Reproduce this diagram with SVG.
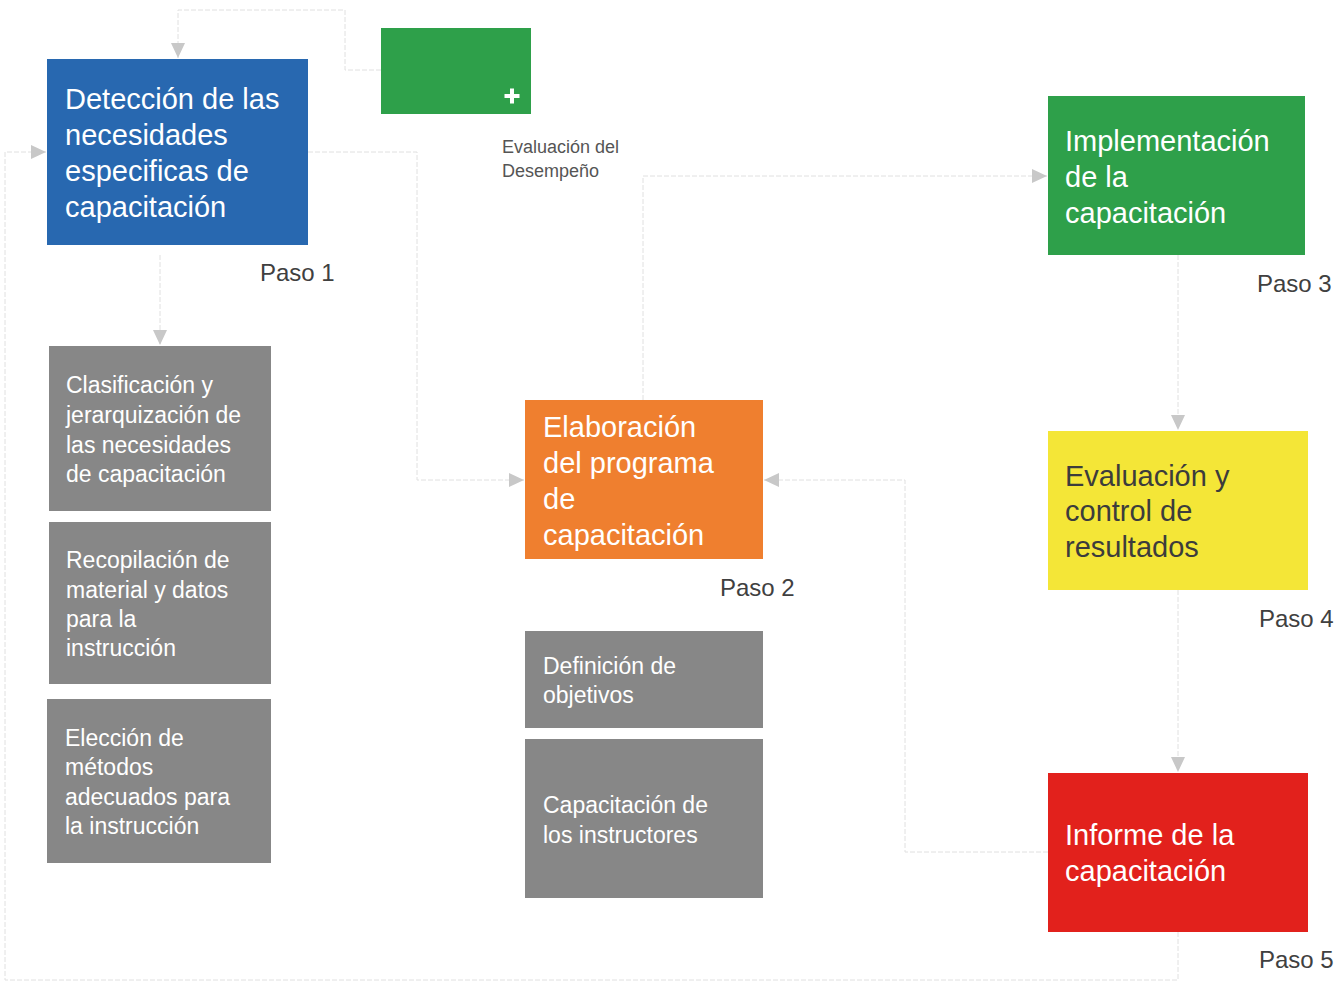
<svg xmlns="http://www.w3.org/2000/svg" width="1342" height="982" viewBox="0 0 1342 982">
<style>
.conn{fill:none;stroke:#e0e0e0;stroke-width:1;stroke-dasharray:5 2}
.big{font-family:"Liberation Sans",Arial,sans-serif;font-size:29px;fill:#fff}
.sm{font-family:"Liberation Sans",Arial,sans-serif;font-size:23px;fill:#fff}
.dk{fill:#3c3c3c}
.paso{font-family:"Liberation Sans",Arial,sans-serif;font-size:24px;fill:#404040}
.note{font-family:"Liberation Sans",Arial,sans-serif;font-size:18px;fill:#555}
.gray{fill:#878787}
</style>
<defs>
<marker id="ah" markerUnits="userSpaceOnUse" markerWidth="16" markerHeight="16" viewBox="0 0 16 16" refX="15" refY="8" orient="auto">
<path d="M0,1 L15,8 L0,15 Z" fill="#c8c8c8"/>
</marker>
</defs>
<rect width="1342" height="982" fill="#fff"/>
<g id="connectors">
<path class="conn" d="M381,70 H345 V10 H178 V58" marker-end="url(#ah)"/>
<path class="conn" d="M1178,932 V980 H5 V152 H46" marker-end="url(#ah)"/>
<path class="conn" d="M308,152 H417 V480 H524" marker-end="url(#ah)"/>
<path class="conn" d="M160,255 V345" marker-end="url(#ah)"/>
<path class="conn" d="M643,400 V176 H1047" marker-end="url(#ah)"/>
<path class="conn" d="M1178,255 V430" marker-end="url(#ah)"/>
<path class="conn" d="M1178,590 V772" marker-end="url(#ah)"/>
<path class="conn" d="M1048,852 H905 V480 H764" marker-end="url(#ah)"/>
</g>
<g id="n-deteccion">
<rect x="47" y="59" width="261" height="186" fill="#2868B0"/>
<text class="big"><tspan x="65" y="109">Detección de las</tspan><tspan x="65" y="145">necesidades</tspan><tspan x="65" y="181">especificas de</tspan><tspan x="65" y="217">capacitación</tspan></text>
<text class="paso" x="260" y="281">Paso 1</text>
</g>
<g id="n-evaluacion-desempeno">
<rect x="381" y="28" width="150" height="86" fill="#2EA04A"/>
<rect x="504.5" y="94" width="15" height="4" fill="#fff"/>
<rect x="510" y="88.5" width="4" height="15" fill="#fff"/>
<text class="note"><tspan x="502" y="153">Evaluación del</tspan><tspan x="502" y="177">Desempeño</tspan></text>
</g>
<g id="n-clasificacion">
<rect class="gray" x="49" y="346" width="222" height="165"/>
<text class="sm"><tspan x="66" y="393">Clasificación y</tspan><tspan x="66" y="423">jerarquización de</tspan><tspan x="66" y="453">las necesidades</tspan><tspan x="66" y="482">de capacitación</tspan></text>
</g>
<g id="n-recopilacion">
<rect class="gray" x="49" y="522" width="222" height="162"/>
<text class="sm"><tspan x="66" y="568">Recopilación de</tspan><tspan x="66" y="598">material y datos</tspan><tspan x="66" y="627">para la</tspan><tspan x="66" y="656">instrucción</tspan></text>
</g>
<g id="n-eleccion">
<rect class="gray" x="47" y="699" width="224" height="164"/>
<text class="sm"><tspan x="65" y="746">Elección de</tspan><tspan x="65" y="775">métodos</tspan><tspan x="65" y="805">adecuados para</tspan><tspan x="65" y="834">la instrucción</tspan></text>
</g>
<g id="n-elaboracion">
<rect x="525" y="400" width="238" height="159" fill="#EF7F2F"/>
<text class="big"><tspan x="543" y="437">Elaboración</tspan><tspan x="543" y="473">del programa</tspan><tspan x="543" y="509">de</tspan><tspan x="543" y="545">capacitación</tspan></text>
<text class="paso" x="720" y="596">Paso 2</text>
</g>
<g id="n-definicion">
<rect class="gray" x="525" y="631" width="238" height="97"/>
<text class="sm"><tspan x="543" y="674">Definición de</tspan><tspan x="543" y="703">objetivos</tspan></text>
</g>
<g id="n-capacitacion-instructores">
<rect class="gray" x="525" y="739" width="238" height="159"/>
<text class="sm"><tspan x="543" y="813">Capacitación de</tspan><tspan x="543" y="843">los instructores</tspan></text>
</g>
<g id="n-implementacion">
<rect x="1048" y="96" width="257" height="159" fill="#2EA04A"/>
<text class="big"><tspan x="1065" y="151">Implementación</tspan><tspan x="1065" y="187">de la</tspan><tspan x="1065" y="223">capacitación</tspan></text>
<text class="paso" x="1257" y="292">Paso 3</text>
</g>
<g id="n-evaluacion-control">
<rect x="1048" y="431" width="260" height="159" fill="#F4E637"/>
<text class="big dk"><tspan x="1065" y="486">Evaluación y</tspan><tspan x="1065" y="521">control de</tspan><tspan x="1065" y="557">resultados</tspan></text>
<text class="paso" x="1259" y="627">Paso 4</text>
</g>
<g id="n-informe">
<rect x="1048" y="773" width="260" height="159" fill="#E2211C"/>
<text class="big"><tspan x="1065" y="845">Informe de la</tspan><tspan x="1065" y="881">capacitación</tspan></text>
<text class="paso" x="1259" y="968">Paso 5</text>
</g>
</svg>
